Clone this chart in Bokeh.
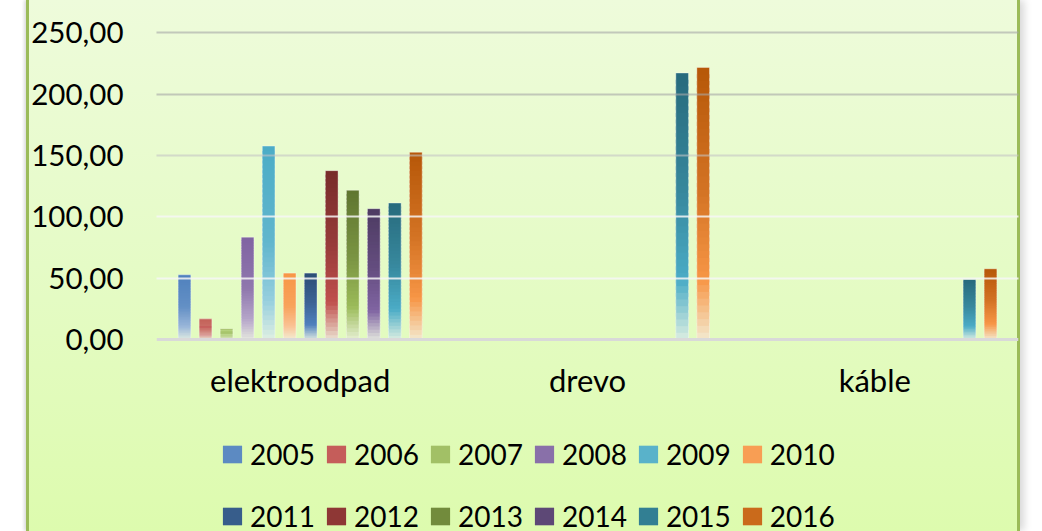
import numpy as np
from bokeh.plotting import figure
from bokeh.models import (ColumnDataSource, FactorRange, Range1d, Legend, LegendItem, Grid,
                          FixedTicker, CustomJSTickFormatter, InlineStyleSheet)
from bokeh.transform import dodge
from bokeh.embed import file_html
from bokeh.resources import INLINE

# ---------------- data ----------------
categories = ["elektroodpad", "drevo", "káble"]
years = ["2005", "2006", "2007", "2008", "2009", "2010",
         "2011", "2012", "2013", "2014", "2015", "2016"]
elektroodpad = [52.7, 16.8, 8.7, 83.4, 157.6, 54.1, 54.1, 137.6, 121.6, 106.6, 111.2, 152.6]
drevo = [0, 0, 0, 0, 0, 0, 0, 0, 0, 0, 217.2, 221.7]
kable = [0, 0, 0, 0, 0, 0, 0, 0, 0, 0, 48.9, 57.6]
y_ticks_major = [0, 50, 100, 150, 200, 250]

# ---------------- styles ----------------
base = ["#4F81BD", "#C0504D", "#9BBB59", "#8064A2", "#4BACC6", "#F79646"]
dark = ["#2C4D75", "#772C2A", "#5F7530", "#4D3B62", "#276A7C", "#B65708"]
WHITE = "#FFFFFF"
PALE = "#F2F8E6"
FONT = "Lato"
NSEG = 40


def h2r(h):
    h = h.lstrip("#")
    return np.array([int(h[i:i + 2], 16) for i in (0, 2, 4)], dtype=float)


def r2h(r):
    r = np.clip(np.round(r), 0, 255).astype(int)
    return "#%02x%02x%02x" % tuple(r)


def mix(a, b, t):
    return r2h(h2r(a) * (1 - t) + h2r(b) * t)


def stops_for(i):
    if i < 6:
        b = base[i]
        return [(0.0, b), (0.5, mix(b, WHITE, 0.12)), (0.8, mix(b, WHITE, 0.42)),
                (1.0, mix(b, PALE, 0.88))]
    d, b = dark[i - 6], base[i - 6]
    return [(0.0, d), (0.45, mix(d, b, 0.45)), (0.78, b), (1.0, mix(b, PALE, 0.85))]


def color_at(stops, f):
    for (f0, c0), (f1, c1) in zip(stops[:-1], stops[1:]):
        if f <= f1:
            t = 0 if f1 == f0 else (f - f0) / (f1 - f0)
            return mix(c0, c1, t)
    return stops[-1][1]


values_by_cat = [elektroodpad, drevo, kable]

# the plot frame extends down to the bottom of the chart so that the legend
# (drawn inside the frame) is not clipped; the value axis starts below zero
# but only 0..250 is labelled.
p = figure(x_range=FactorRange(factors=categories), y_range=Range1d(-156.5, 251),
           width=994, height=531, output_backend="svg", toolbar_location=None,
           min_border_left=130, min_border_right=2, min_border_top=31, min_border_bottom=0)
p.margin = (0, 0, 0, 26)
p.background_fill_alpha = 0
p.border_fill_alpha = 0
p.outline_line_color = None
p.stylesheets = [InlineStyleSheet(css="""
:host {
  background: linear-gradient(to bottom, #EEFBDB 0%, #E5FBC6 50%, #DDFBAE 100%);
  box-shadow: inset 3px 0 0 #9BBB59, inset -3px 0 0 #9BBB59,
              4px 0 8px rgba(0,0,0,0.16), -2px 0 3px rgba(0,0,0,0.12);
}
""")]

slot = 0.0732
bar_w = 0.044
seg_renderers = []
for i, yr in enumerate(years):
    off = (i - 5.5) * slot
    xs, tops, bottoms, cols = [], [], [], []
    ox, otop = [], []
    stops = stops_for(i)
    for c, vals in zip(categories, values_by_cat):
        v = vals[i]
        if v <= 0:
            continue
        ox.append(c)
        otop.append(v)
        for k in range(NSEG):
            f = (k + 0.5) / NSEG
            xs.append(c)
            tops.append(v * (1 - k / NSEG))
            bottoms.append(max(0.0, v * (1 - (k + 1.6) / NSEG)))
            cols.append(color_at(stops, f))
    src = ColumnDataSource(dict(x=xs, top=tops, bottom=bottoms, color=cols))
    r = p.vbar(x=dodge("x", off, range=p.x_range), top="top", bottom="bottom",
               width=bar_w, fill_color="color", line_color=None, source=src)
    seg_renderers.append(r)
    osrc = ColumnDataSource(dict(x=ox, top=otop))
    p.vbar(x=dodge("x", off, range=p.x_range), top="top", bottom=0, width=bar_w,
           fill_alpha=0, line_color="white", line_alpha=0.35, line_width=1, source=osrc)

# grids (drawn over bars, semi-transparent like the original)
p.xgrid.visible = False
p.ygrid.visible = False
for ticks, col, alpha in [([200, 250], "#A8A8A8", 0.62), ([150], "#C4C4C4", 0.6),
                          ([50, 100], "#F6F6F6", 0.85)]:
    g = Grid(dimension=1, ticker=FixedTicker(ticks=ticks), grid_line_color=col,
             grid_line_alpha=alpha, grid_line_width=2, level="overlay")
    p.add_layout(g)

# axes
p.yaxis.ticker = FixedTicker(ticks=y_ticks_major)
p.yaxis.formatter = CustomJSTickFormatter(code="return tick.toFixed(2).replace('.', ',');")
p.yaxis.axis_line_color = None
p.yaxis.major_tick_line_color = None
p.yaxis.minor_tick_line_color = None
p.yaxis.major_tick_out = 0
p.yaxis.major_label_standoff = 33
p.yaxis.major_label_text_font = FONT
p.yaxis.major_label_text_font_size = "29.5px"
p.yaxis.major_label_text_color = "#000000"

p.xaxis.fixed_location = 0
p.xaxis.axis_line_color = "#D9D9D9"
p.xaxis.axis_line_width = 3
p.xaxis.major_tick_line_color = None
p.xaxis.major_tick_out = 0
p.xaxis.major_label_standoff = 22
p.xaxis.major_label_text_font = FONT
p.xaxis.major_label_text_font_size = "31px"
p.xaxis.major_label_text_color = "#000000"

items = [LegendItem(label=yr, renderers=[seg_renderers[i]], index=int(NSEG * 0.3))
         for i, yr in enumerate(years)]
legend = Legend(items=items, orientation="horizontal", ncols=6, location=(64, -11),
                glyph_width=24, glyph_height=22, label_standoff=6, spacing=9,
                label_height=53, label_text_font=FONT, label_text_font_size="28px",
                label_text_color="#000000", border_line_alpha=0, background_fill_alpha=0,
                padding=0, margin=0, click_policy="none")
p.add_layout(legend, "center")

open("out.html", "w").write(file_html(p, INLINE))
